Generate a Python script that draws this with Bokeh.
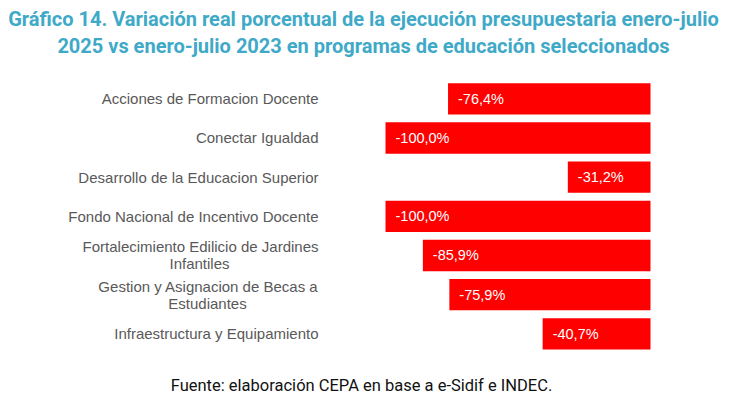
from bokeh.plotting import figure
from bokeh.models import Range1d, ColumnDataSource
from bokeh.core.properties import value
from bokeh.embed import file_html
from bokeh.resources import INLINE

# ---- data ----
categories = [
    "Acciones de Formacion Docente",
    "Conectar Igualdad",
    "Desarrollo de la Educacion Superior",
    "Fondo Nacional de Incentivo Docente",
    "Fortalecimiento Edilicio de Jardines\nInfantiles",
    "Gestion y Asignacion de Becas a\nEstudiantes",
    "Infraestructura y Equipamiento",
]
values = [-76.4, -100.0, -31.2, -100.0, -85.9, -75.9, -40.7]
value_labels = ["-76,4%", "-100,0%", "-31,2%", "-100,0%", "-85,9%", "-75,9%", "-40,7%"]

title_lines = [
    "Gráfico 14. Variación real porcentual de la ejecución presupuestaria enero-julio",
    "2025 vs enero-julio 2023 en programas de educación seleccionados",
]
footer = "Fuente: elaboración CEPA en base a e-Sidif e INDEC."

# ---- style / layout ----
W, H = 730, 397
PX_PER_UNIT = 2.65
ZERO_PX = 650.0
ROW0_PX = 98.3
ROW_PX = 39.17
TITLE_COLOR = "#3FA9C8"
LABEL_COLOR = "#595959"
BAR_COLOR = "#FF0000"

def xd(px):
    return (px - ZERO_PX) / PX_PER_UNIT

def yd(px):
    return (px - ROW0_PX) / ROW_PX

p = figure(width=W, height=H, output_backend="svg", toolbar_location=None,
           x_range=Range1d(xd(0), xd(W)), y_range=Range1d(yd(H), yd(0)),
           min_border=0, min_border_left=0, min_border_right=0,
           min_border_top=0, min_border_bottom=0)
p.axis.visible = False
p.grid.visible = False
p.outline_line_color = None
p.background_fill_color = "white"
p.border_fill_color = "white"

ys = list(range(len(categories)))
src = ColumnDataSource(dict(y=ys, v=values, zero=[0] * len(values), lab=value_labels))

p.hbar(y="y", left="v", right="zero", height=0.8, source=src,
       fill_color=BAR_COLOR, line_color=None)

p.text(x="v", y="y", text="lab", source=src, x_offset=10,
       text_align="left", text_baseline="middle", text_color="white",
       text_font=value("Liberation Sans"), text_font_size="14.5px")

# category labels (right aligned block, continuation lines centered under first)
LABEL_X = xd(318)
LFS = "15px"
cont_offsets = {4: -119, 5: -111}
first_x, first_y, first_t = [], [], []
for i, c in enumerate(categories):
    parts = c.split("\n")
    if len(parts) == 1:
        first_x.append(LABEL_X); first_y.append(i); first_t.append(c)
    else:
        p.text(x=[LABEL_X], y=[i], text=[parts[0]], y_offset=-8.5,
               text_align="right", text_baseline="middle", text_color=LABEL_COLOR,
               text_font=value("Liberation Sans"), text_font_size=LFS)
        p.text(x=[LABEL_X], y=[i], text=[parts[1]], y_offset=8.5,
               x_offset=cont_offsets.get(i, -100),
               text_align="center", text_baseline="middle", text_color=LABEL_COLOR,
               text_font=value("Liberation Sans"), text_font_size=LFS)
p.text(x=first_x, y=first_y, text=first_t,
       text_align="right", text_baseline="middle", text_color=LABEL_COLOR,
       text_font=value("Liberation Sans"), text_font_size=LFS)

# title
CENTER_X = xd(363)
p.text(x=[CENTER_X, CENTER_X], y=[yd(18), yd(45)], text=title_lines,
       text_align="center", text_baseline="middle", text_color=TITLE_COLOR,
       text_font=value("Roboto"), text_font_style="bold", text_font_size="20px")

# footer
p.text(x=[xd(361)], y=[yd(385)], text=[footer],
       text_align="center", text_baseline="middle", text_color="#111111",
       text_font=value("Roboto"), text_font_size="16.5px")

open("out.html", "w").write(file_html(p, INLINE))
